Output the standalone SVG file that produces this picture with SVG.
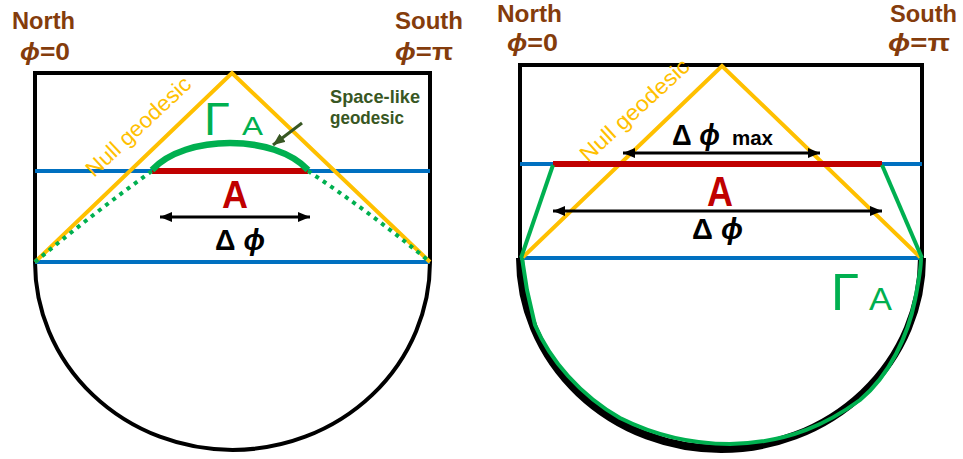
<svg xmlns="http://www.w3.org/2000/svg" width="963" height="459" viewBox="0 0 963 459">
<defs>
<marker id="ah" viewBox="0 0 12 10" refX="12" refY="5" markerWidth="12" markerHeight="10" markerUnits="userSpaceOnUse" orient="auto-start-reverse"><path d="M0,0 L12,5 L0,10 z" fill="#000"/></marker>
<marker id="ahg" viewBox="0 0 12 10" refX="12" refY="5" markerWidth="12" markerHeight="10" markerUnits="userSpaceOnUse" orient="auto"><path d="M0,0 L12,5 L0,10 z" fill="#385723"/></marker>
<style>
.frame{fill:none;stroke:#000;stroke-width:4}
.blue{stroke:#0070C0;stroke-width:4}
.red{stroke:#C00000;stroke-width:6}
.null{fill:none;stroke:#FFC000;stroke-width:4}
.grn{fill:none;stroke:#00B050;stroke-width:4}
.grnd{fill:none;stroke:#00B050;stroke-width:4;stroke-dasharray:4 5}
.grnt{fill:none;stroke:#00B050;stroke-width:6.5}
.arr{stroke:#000;stroke-width:3;marker-start:url(#ah);marker-end:url(#ah)}
.t{font-family:"Liberation Sans","DejaVu Sans",sans-serif}
.brown{fill:#843C0C;font-weight:bold;font-size:24px}
.phi{font-style:italic}
.lab{fill:#000;font-weight:bold;font-size:29px}
.gam{fill:#00B050}
.redA{fill:#C00000;font-weight:bold}
.nulltxt{fill:#FFC000;font-size:22px}
.sl{fill:#385723;font-weight:bold;font-size:19px}
</style>
</defs>

<g id="left-panel">
<path class="frame" d="M35,262 L35,73 L430,73 L430,262"/>
<path class="frame" d="M35,262 A197.5,188 0 0 0 430,262"/>
</g>
<g id="right-panel">
<path class="frame" d="M520,258 L520,65 L922,65 L922,258"/>
<path fill="none" stroke="#000" stroke-width="8" d="M520,258 A201,191 0 0 0 922,258"/>
</g>

<g id="connectors">
<line class="blue" x1="35" y1="171" x2="430" y2="171"/>
<line class="blue" x1="35" y1="262" x2="430" y2="262"/>
<line class="red" x1="152" y1="171" x2="308" y2="171"/>
<path class="null" d="M35,262 L232,73 L430,262"/>
<path class="grnd" d="M35,262 Q95,212 152,171"/>
<path class="grnd" d="M308,171 Q370,212 430,262"/>
<path class="grnt" d="M152,170 C185,134 275,134 308,170"/>
<line class="arr" x1="160" y1="217" x2="310" y2="217"/>
<line stroke="#385723" stroke-width="3" x1="302" y1="123" x2="273" y2="145" marker-end="url(#ahg)"/>
<line class="blue" x1="520" y1="164" x2="922" y2="164"/>
<line class="blue" x1="520" y1="258" x2="922" y2="258"/>
<path class="null" d="M522,258 L722,66 L921,258"/>
<line class="red" x1="553" y1="164" x2="882" y2="164"/>
<path class="grn" d="M553,165 L521,258"/>
<path class="grn" d="M882,165 L922,258"/>
<path class="grn" stroke-linejoin="round" d="M522,258 L527,290 L535,325 C550,360 580,395 620,418 C660,438 700,444 730,444 C790,443 830,422 860,400 C890,375 908,335 915,300 C919,280 921,265 921,258"/>
<line class="arr" x1="623" y1="153" x2="820" y2="153"/>
<line class="arr" x1="553" y1="211" x2="882" y2="211"/>
</g>

<g id="labels-left">
<text class="t brown" x="12" y="29" textLength="63" lengthAdjust="spacingAndGlyphs">North</text>
<text class="t brown" x="20" y="60" textLength="50" lengthAdjust="spacingAndGlyphs"><tspan class="phi">ϕ</tspan>=0</text>
<text class="t brown" x="395" y="29" textLength="68" lengthAdjust="spacingAndGlyphs">South</text>
<text class="t brown" x="395" y="60" textLength="58" lengthAdjust="spacingAndGlyphs"><tspan class="phi">ϕ</tspan>=π</text>
<text class="t nulltxt" transform="translate(94,178) rotate(-43)" textLength="135" lengthAdjust="spacingAndGlyphs">Null geodesic</text>
<text class="t gam" x="204" y="135" font-size="47">Γ</text>
<text class="t gam" x="242" y="135" font-size="26" textLength="21" lengthAdjust="spacingAndGlyphs">A</text>
<text class="t sl" x="330" y="103" textLength="90" lengthAdjust="spacingAndGlyphs">Space-like</text>
<text class="t sl" x="330" y="124" textLength="74" lengthAdjust="spacingAndGlyphs">geodesic</text>
<text class="t redA" x="222" y="208" font-size="39" textLength="26" lengthAdjust="spacingAndGlyphs">A</text>
<text class="t lab" x="215" y="250" textLength="50" lengthAdjust="spacingAndGlyphs">Δ <tspan class="phi">ϕ</tspan></text>
</g>

<g id="labels-right">
<text class="t brown" x="497" y="22" textLength="65" lengthAdjust="spacingAndGlyphs">North</text>
<text class="t brown" x="507" y="51" textLength="51" lengthAdjust="spacingAndGlyphs"><tspan class="phi">ϕ</tspan>=0</text>
<text class="t brown" x="890" y="22" textLength="67" lengthAdjust="spacingAndGlyphs">South</text>
<text class="t brown" x="888" y="51" textLength="62" lengthAdjust="spacingAndGlyphs"><tspan class="phi">ϕ</tspan>=π</text>
<text class="t nulltxt" transform="translate(588,163) rotate(-42.5)" textLength="140" lengthAdjust="spacingAndGlyphs">Null geodesic</text>
<text class="t lab" x="672" y="145" textLength="48" lengthAdjust="spacingAndGlyphs">Δ <tspan class="phi">ϕ</tspan></text>
<text class="t" x="732" y="145" font-size="20" font-weight="bold" fill="#000" textLength="41" lengthAdjust="spacingAndGlyphs">max</text>
<text class="t redA" x="707" y="206" font-size="43" textLength="26" lengthAdjust="spacingAndGlyphs">A</text>
<text class="t lab" x="692" y="239" textLength="51" lengthAdjust="spacingAndGlyphs">Δ <tspan class="phi">ϕ</tspan></text>
<text class="t gam" x="831" y="310" font-size="51">Γ</text>
<text class="t gam" x="869" y="310" font-size="31" textLength="23" lengthAdjust="spacingAndGlyphs">A</text>
</g>
</svg>
